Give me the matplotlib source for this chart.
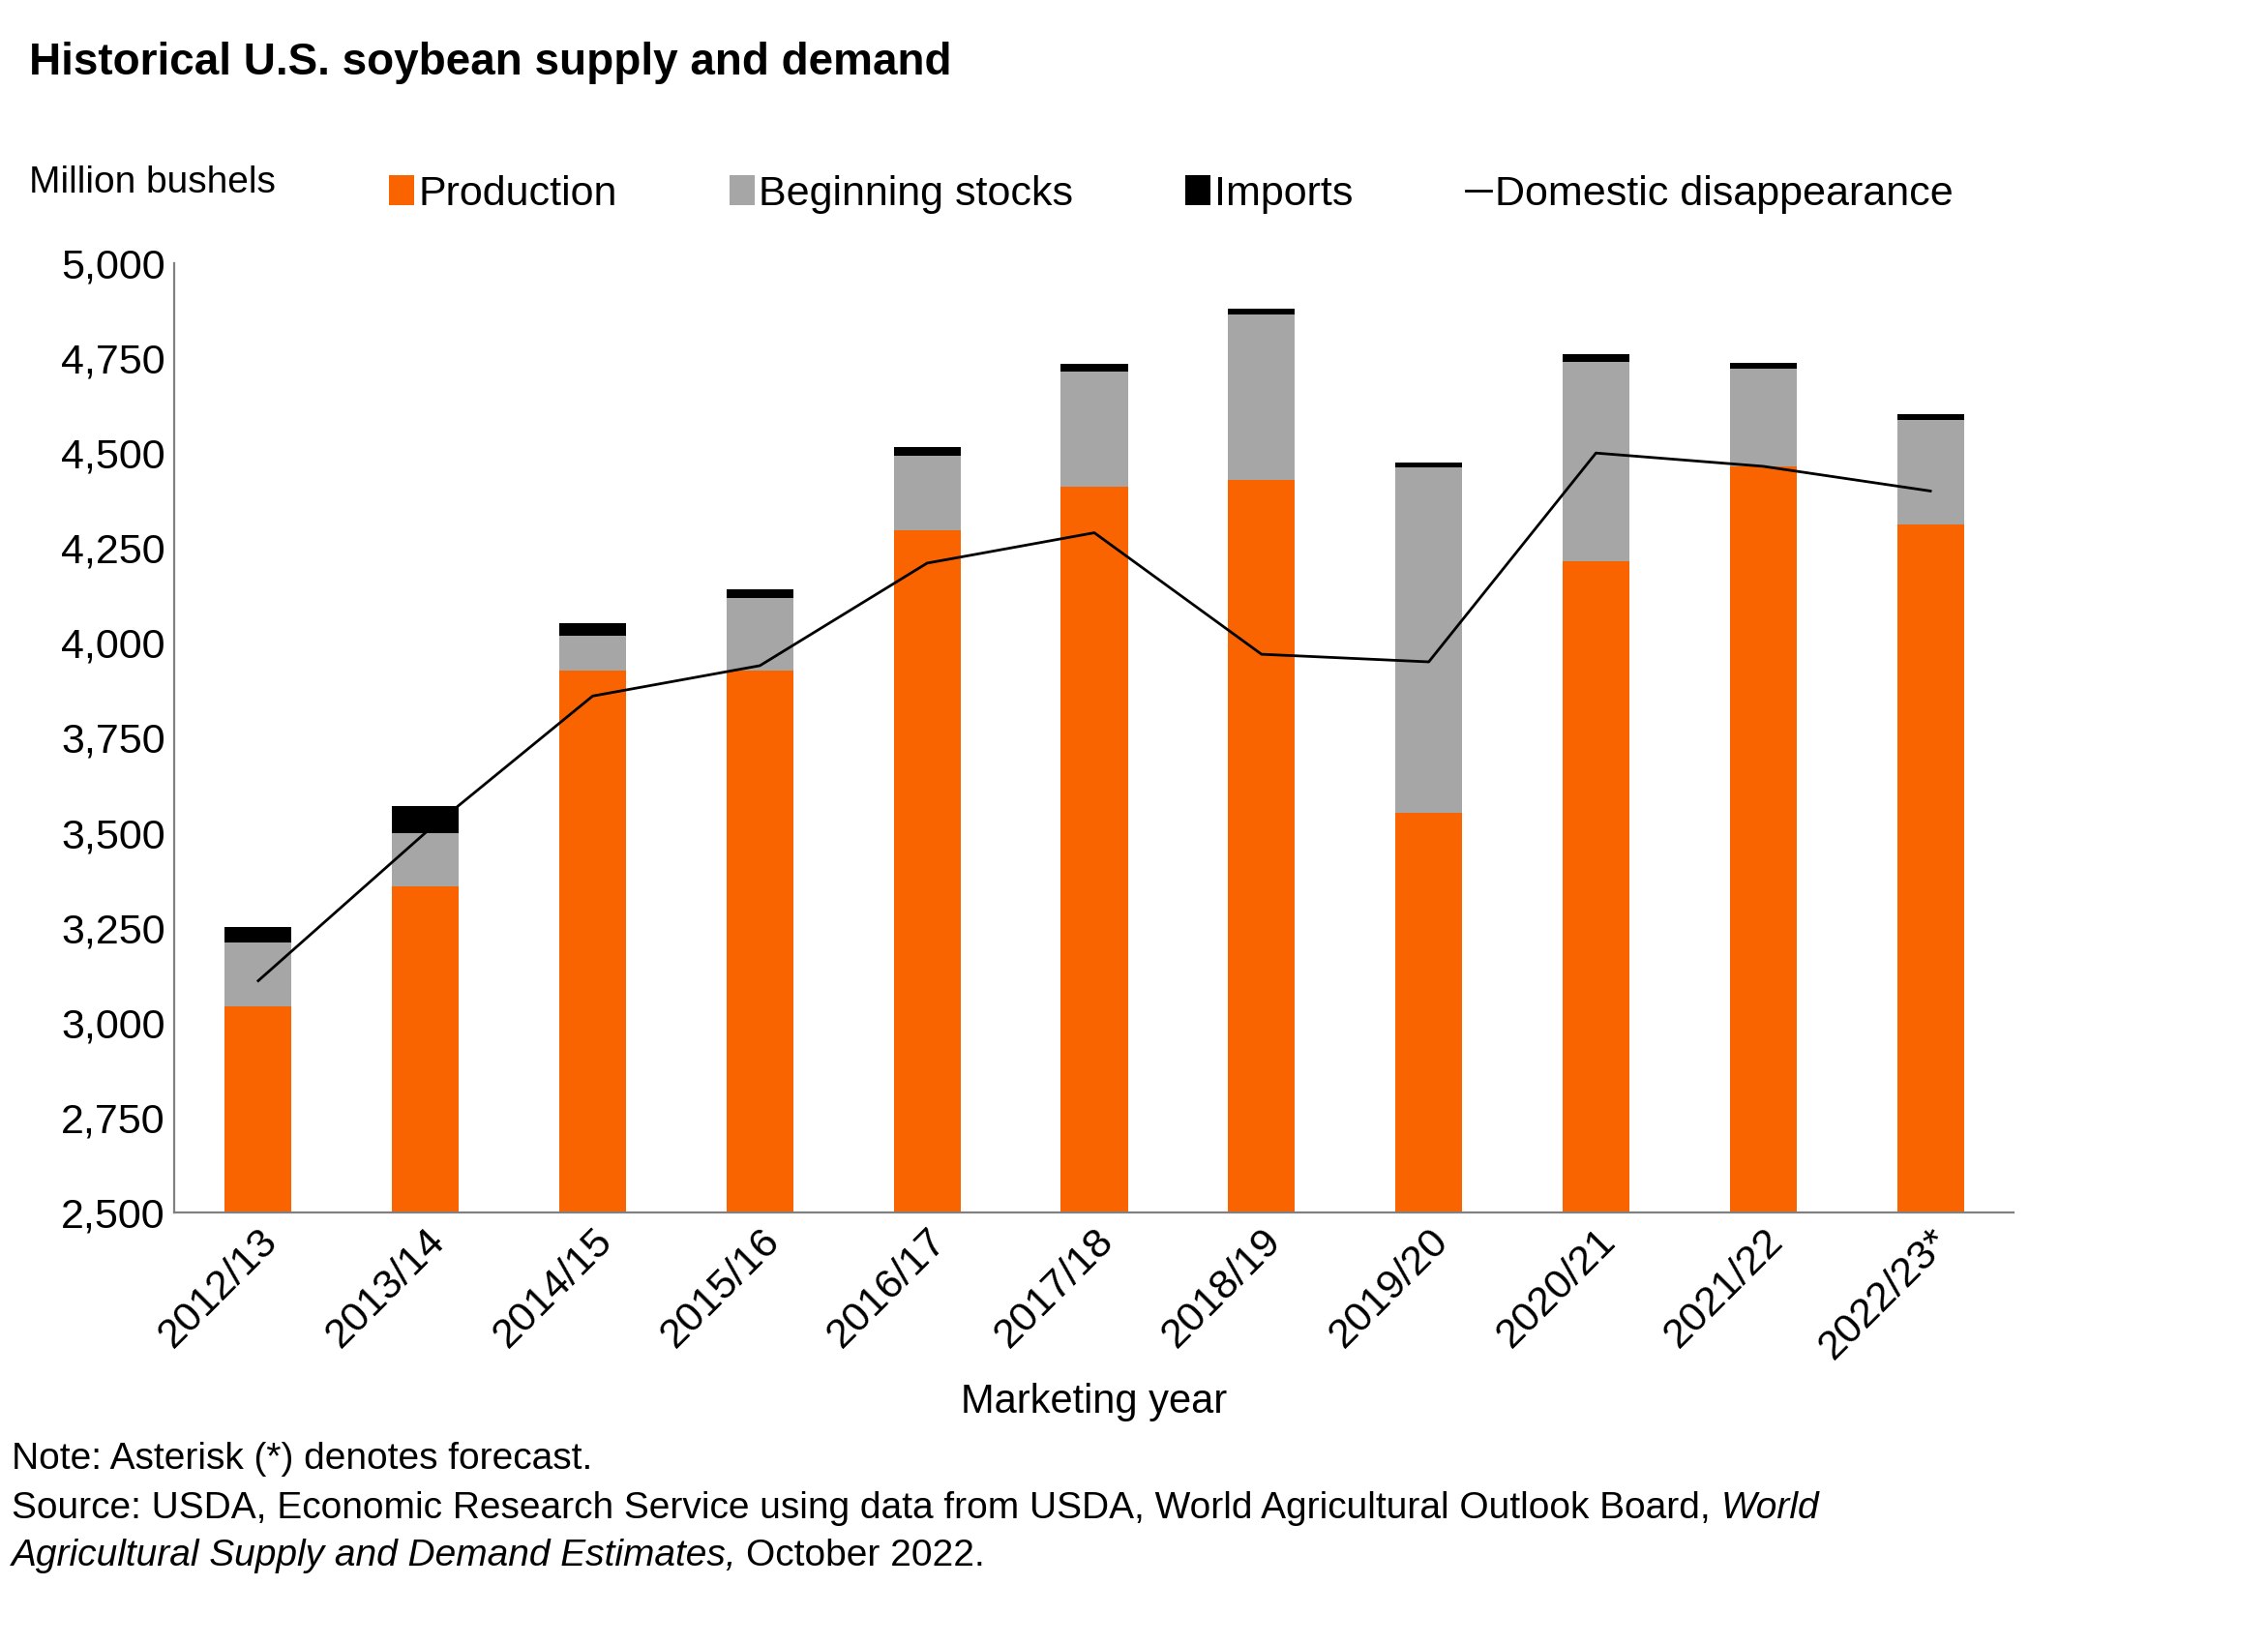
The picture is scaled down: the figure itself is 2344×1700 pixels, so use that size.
import matplotlib
matplotlib.use("Agg")
import matplotlib.pyplot as plt
import numpy as np

years = ["2012/13","2013/14","2014/15","2015/16","2016/17","2017/18","2018/19","2019/20","2020/21","2021/22","2022/23*"]
production = [3042,3358,3927,3926,4296,4412,4428,3552,4216,4465,4313]
beginning_stocks = [169,141,92,191,197,302,438,909,525,257,274]
imports = [41,72,33,24,22,22,14,15,20,16,15]
domestic = [3110,3500,3860,3940,4210,4290,3970,3950,4500,4465,4400]

plt.rcParams['font.family'] = ['Liberation Sans', 'DejaVu Sans']
fig = plt.figure(figsize=(11.72, 8.5), dpi=200)
ax = fig.add_axes([0.077, 0.263, 0.811, 0.577])
x = np.arange(len(years))
p = np.array(production); s = np.array(beginning_stocks); im = np.array(imports)
b1 = ax.bar(x, p, width=0.4, color='#FA6400', label='Production')
b2 = ax.bar(x, s, width=0.4, bottom=p, color='#A6A6A6', label='Beginning stocks')
b3 = ax.bar(x, im, width=0.4, bottom=p+s, color='#000000', label='Imports')
l1, = ax.plot(x, domestic, color='black', lw=1, label='Domestic disappearance')
ax.set_ylim(2500, 5000)
ax.set_xlim(-0.5, len(years)-0.5)
ax.set_yticks(np.arange(2500, 5001, 250))
ax.set_yticklabels([f"{v:,}" for v in range(2500, 5001, 250)], fontsize=15.5)
ax.set_xticks(x)
ax.set_xticklabels(years, rotation=45, ha='right', rotation_mode='anchor', fontsize=15.5)
ax.tick_params(axis='both', length=0)
for sp in ['top', 'right']:
    ax.spines[sp].set_visible(False)
ax.spines['left'].set_color('#808080'); ax.spines['bottom'].set_color('#808080')
ax.set_xlabel('Marketing year', fontsize=15, labelpad=6)
fig.text(0.013, 0.962, 'Historical U.S. soybean supply and demand', fontsize=16.5, fontweight='bold', va='center')
fig.text(0.013, 0.889, 'Million bushels', fontsize=14, va='center')
fig.legend([b1, b2, b3, l1], ['Production', 'Beginning stocks', 'Imports', 'Domestic disappearance'],
           loc='center left', bbox_to_anchor=(0.155, 0.882), ncol=4, frameon=False, fontsize=15.5,
           handlelength=0.6, handletextpad=0.1, columnspacing=2.7)
fs = 14
fig.text(0.005, 0.113, 'Note: Asterisk (*) denotes forecast.', fontsize=fs, va='center')
t1 = fig.text(0.005, 0.083, 'Source: USDA, Economic Research Service using data from USDA, World Agricultural Outlook Board, ', fontsize=fs, va='center')
t2 = fig.text(0.005, 0.054, 'Agricultural Supply and Demand Estimates,', fontsize=fs, va='center', style='italic')
r = fig.canvas.get_renderer()
e1 = t1.get_window_extent(r); e2 = t2.get_window_extent(r)
W = fig.bbox.width
fig.text(e1.x1 / W, 0.083, 'World', fontsize=fs, va='center', style='italic')
fig.text(e2.x1 / W + 0.004, 0.054, 'October 2022.', fontsize=fs, va='center')
fig.savefig('out.png', dpi=200)
